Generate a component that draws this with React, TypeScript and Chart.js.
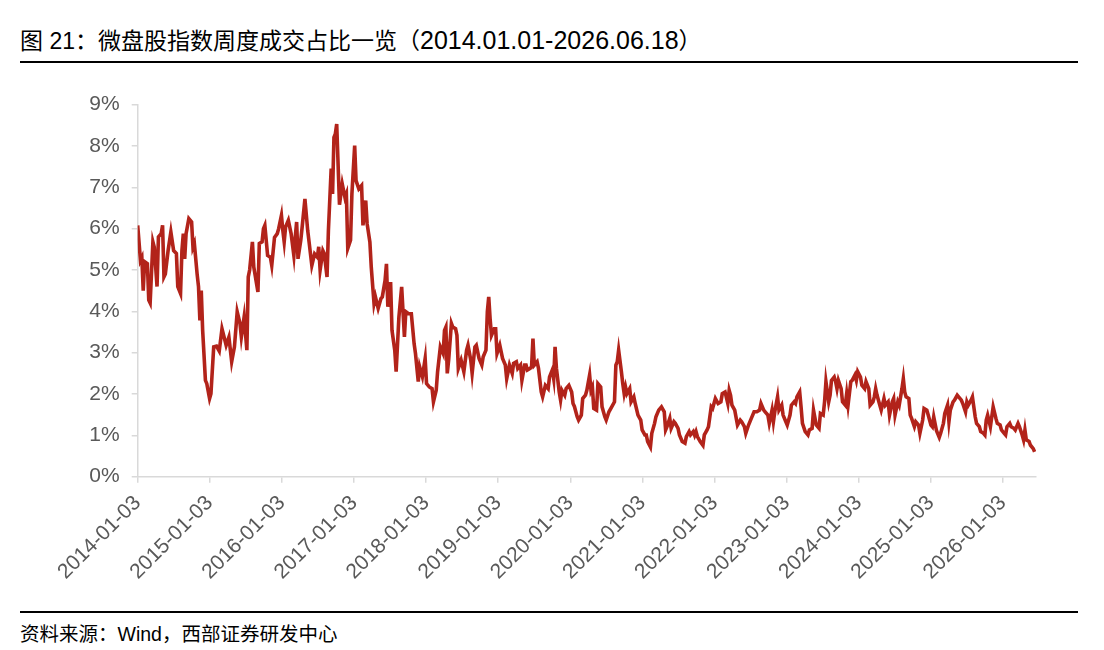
import React, { useEffect, useRef } from 'react';
import { Chart, registerables } from 'chart.js';

Chart.register(...registerables);

const weekIndex = [
  0, 2, 3, 4, 5, 7, 8, 9, 11, 12, 14, 15, 17, 18, 19, 20, 22, 24, 26, 28, 29, 31, 32, 33, 34, 35, 37, 39,
  40, 41, 43, 44, 45, 46, 47, 49, 50, 52, 53, 55, 57, 59,
  61, 64, 66, 68, 70, 72, 74, 75, 77, 79, 80, 81, 83, 84, 87, 88, 90, 91, 92, 94, 96, 97, 99,
  101, 102, 104, 105, 106, 107, 109, 111, 113, 114, 115, 116, 118, 119, 121, 123, 124, 126, 128,
  130, 131, 132, 134, 135, 137, 138, 140, 141, 142, 143, 144, 146, 148, 150, 151, 152, 154, 155, 157, 158,
  160, 162, 163, 165, 166, 168, 169, 171, 172, 174, 176, 177, 179, 180, 181, 183, 184, 186, 187, 189,
  191, 193, 194, 196, 198, 200, 201, 203, 204, 206, 208, 209, 211, 213, 214, 216, 217, 219,
  221, 222, 223, 224, 225, 227, 228, 230, 231, 232, 234, 236, 238, 239, 241, 242, 244, 245, 247, 249,
  250, 252, 253, 254, 255, 256, 258, 259, 260, 262, 264, 266, 267, 269, 271, 272, 274, 275, 277, 278,
  280, 281, 282, 284, 285, 286, 287, 289, 290, 292, 293, 295, 297, 298, 300, 301, 302, 303, 305, 306,
  307, 309, 310, 312, 314, 315, 316, 318, 319, 321, 322, 324, 325, 327, 328, 329, 330, 332, 333, 335,
  336, 338, 339, 341, 343, 345, 346, 347, 348, 350, 351, 352, 353, 354, 356, 357, 359, 360, 362, 364,
  365, 367, 368, 369, 371, 372, 374, 375, 377, 379, 381, 382, 383, 385, 386, 388, 389, 391, 392, 394,
  396, 397, 399, 400, 402, 403, 404, 405, 407, 409, 410, 412, 413, 415, 416, 418, 420, 422, 423, 425,
  427, 428, 429, 430, 432, 434, 436, 437, 439, 440, 442, 444, 446, 448, 450, 451, 453, 454, 456, 457,
  459, 460, 461, 463, 464, 466, 467, 469, 470, 472, 473, 475, 476, 477, 479, 480, 481, 483, 485, 486,
  488, 489, 491, 493, 494, 496, 497, 498, 500, 501, 502, 504, 505, 506, 507, 509, 510, 512, 513, 514,
  516, 517, 519, 520, 521, 523, 524, 526, 527, 529, 530, 532, 533, 534, 535, 537, 538, 540, 541, 543,
  544, 546, 547, 548, 550, 551, 553, 554, 555, 556, 558, 559, 560, 562, 563, 565, 566, 568, 569, 571,
  572, 574, 575, 576, 578, 580, 581, 583, 584, 586, 587, 588, 590, 591, 593, 594, 596, 597, 599, 600,
  601, 603, 604, 606, 607, 609, 610, 612, 613, 614, 615, 617, 618, 619, 621, 622, 624, 625, 627, 628,
  629, 631, 632, 634, 635, 637, 638, 640, 641, 642, 643, 645, 646, 648, 649,
];

// Weekly turnover share of the micro-cap index, in percent
const turnoverShare = [
  6.08, 5.23, 5.3, 4.5, 5.2, 5.15, 4.27, 4.2, 5.68, 5.55, 4.6, 5.8, 5.88, 6.08, 4.83, 4.9, 5.47, 5.92, 5.47, 5.4, 4.6, 4.43, 5.47, 5.88, 5.27, 5.88, 6.24, 6.16,
  5.55, 5.64, 4.9, 4.6, 3.78, 4.5, 3.54, 2.33, 2.25, 1.89, 2.01, 3.14, 3.16, 3.04,
  3.58, 3.18, 3.38, 2.78, 3.14, 3.99, 3.71, 3.38, 3.86, 3.06, 4.83, 5.0, 5.68, 5.07, 4.47, 5.64, 5.68, 6.0, 6.08, 5.35, 5.31, 5.11, 5.79,
  5.88, 6.0, 6.32, 5.96, 5.68, 6.04, 6.2, 5.88, 5.35, 5.79, 6.16, 5.27, 5.72, 6.04, 6.72, 5.96, 5.68, 5.11, 5.39,
  5.31, 5.56, 5.0, 5.47, 5.4, 4.83, 5.96, 7.45, 6.84, 8.21, 8.29, 8.53, 6.58, 7.08, 6.75, 6.84, 5.52, 5.72, 6.84, 8.01, 7.16,
  6.96, 7.04, 6.08, 6.68, 6.12, 5.68, 5.07, 4.19, 4.35, 4.07, 4.31, 4.35, 4.75, 5.15, 4.11, 4.71, 3.54, 3.06, 2.54, 3.86,
  4.59, 3.38, 3.99, 3.94, 3.94, 3.22, 2.98, 2.3, 2.66, 2.42, 2.86, 2.25, 2.17, 2.13, 1.81, 2.09, 2.54, 3.14,
  2.98, 3.54, 3.62, 2.5, 2.82, 3.71, 3.62, 3.58, 3.42, 2.62, 2.82, 2.54, 3.06, 3.18, 2.82, 2.5, 3.14, 3.18, 2.86, 2.7,
  2.9, 3.06, 3.99, 4.35, 3.82, 3.42, 3.58, 3.58, 2.98, 3.18, 2.86, 2.7, 2.37, 2.7, 2.5, 2.74, 2.78, 2.62, 2.7, 2.33,
  2.7, 2.7, 2.58, 2.62, 2.66, 3.34, 2.7, 2.78, 2.62, 2.05, 1.93, 2.21, 2.13, 2.41, 2.58, 2.37, 3.14, 2.62, 2.05, 1.85,
  2.09, 1.97, 2.13, 2.21, 2.05, 1.77, 1.7, 1.45, 1.37, 1.49, 1.89, 1.97, 2.09, 2.46, 2.09, 2.17, 1.65, 1.61, 2.25, 2.17,
  1.69, 1.45, 1.37, 1.57, 1.69, 1.81, 2.7, 2.78, 3.06, 2.54, 2.25, 2.01, 2.17, 2.01, 2.13, 1.81, 1.93, 1.77, 1.49, 1.37,
  1.13, 1.01, 1.01, 0.85, 0.72, 1.05, 1.29, 1.45, 1.61, 1.69, 1.57, 1.13, 1.21, 1.41, 1.17, 1.33, 1.29, 1.17, 1.01, 0.85,
  0.81, 0.97, 1.09, 1.01, 1.09, 1.0, 1.09, 0.97, 0.85, 0.76, 1.01, 1.13, 1.21, 1.69, 1.65, 1.89, 1.77, 1.81, 2.01, 2.05,
  1.77, 2.09, 1.97, 1.73, 1.61, 1.25, 1.37, 1.33, 1.21, 1.05, 1.25, 1.41, 1.57, 1.57, 1.61, 1.77, 1.61, 1.57, 1.49, 1.29,
  1.61, 1.33, 1.57, 1.93, 1.61, 1.73, 1.49, 1.33, 1.25, 1.49, 1.73, 1.81, 1.77, 1.93, 2.05, 1.69, 1.29, 1.09, 1.01, 1.13,
  1.17, 1.61, 1.25, 1.17, 1.53, 1.49, 1.81, 2.3, 1.81, 1.97, 2.33, 2.41, 2.3, 2.13, 2.33, 2.13, 1.81, 1.73, 2.01, 1.73,
  2.3, 2.33, 2.46, 2.33, 2.54, 2.41, 2.21, 2.13, 2.3, 2.13, 1.73, 1.81, 1.93, 2.13, 1.97, 1.73, 1.61, 1.89, 1.73, 1.81,
  1.49, 1.81, 1.89, 1.49, 1.81, 1.73, 2.13, 2.37, 2.05, 1.93, 1.89, 1.49, 1.41, 1.21, 1.33, 1.25, 1.05, 1.37, 1.65, 1.61,
  1.49, 1.25, 1.21, 1.45, 1.11, 0.95, 1.05, 1.29, 1.53, 1.73, 1.33, 1.61, 1.81, 1.85, 1.97, 1.93, 1.85, 1.77, 1.57, 1.81,
  1.73, 1.85, 1.93, 1.45, 1.29, 1.21, 1.09, 1.05, 1.01, 1.37, 1.49, 1.21, 1.45, 1.69, 1.41, 1.29, 1.25, 1.13, 1.05, 1.01,
  1.21, 1.29, 1.21, 1.17, 1.13, 1.29, 1.21, 1.01, 0.89, 1.13, 0.89, 0.85, 0.76, 0.68, 0.6,
];

const yearTickLabels = [
  '2014-01-03', '2015-01-03', '2016-01-03', '2017-01-03', '2018-01-03', '2019-01-03', '2020-01-03',
  '2021-01-03', '2022-01-03', '2023-01-03', '2024-01-03', '2025-01-03', '2026-01-03',
];

const startDate = '2014-01-03';
const lastWeek = 650;

function weeksFromStart(label: string): number {
  const [y, m, d] = label.split('-').map(Number);
  const [y0, m0, d0] = startDate.split('-').map(Number);
  return (Date.UTC(y, m - 1, d) - Date.UTC(y0, m0 - 1, d0)) / (7 * 86400000);
}

const TITLE_HEAD = '图 21：微盘股指数周度成交占比一览（';
const TITLE_RANGE = '2014.01.01-2026.06.18';
const TITLE_TAIL = '）';
const SOURCE = '资料来源：Wind，西部证券研发中心';

const tickFont = { family: '"Liberation Sans", Arial, sans-serif', size: 21 };
const axisGray = '#d9d9d9';
const labelGray = '#595959';

export default function App() {
  const canvasRef = useRef<HTMLCanvasElement>(null);

  useEffect(() => {
    if (!canvasRef.current) return;
    const points = weekIndex.map((w, i) => ({ x: w, y: turnoverShare[i] }));
    const chart = new Chart(canvasRef.current, {
      type: 'line',
      data: {
        datasets: [
          {
            data: points,
            borderColor: '#B2231A',
            borderWidth: 3.6,
            pointRadius: 0,
            tension: 0,
            fill: false,
          },
        ],
      },
      options: {
        animation: false,
        responsive: false,
        maintainAspectRatio: false,
        layout: { padding: { left: 0, right: 68, top: 24, bottom: 0 } },
        plugins: { legend: { display: false }, tooltip: { enabled: false } },
        scales: {
          x: {
            type: 'linear',
            min: 0,
            max: lastWeek,
            afterBuildTicks: (scale: any) => {
              scale.ticks = yearTickLabels.map((l) => ({ value: weeksFromStart(l) }));
            },
            afterFit: (scale: any) => {
              scale.height = 133.3;
            },
            ticks: {
              autoSkip: false,
              minRotation: 45,
              maxRotation: 45,
              color: labelGray,
              font: tickFont,
              padding: 8,
              callback: (_v: any, i: number) => yearTickLabels[i],
            },
            grid: {
              drawOnChartArea: false,
              drawTicks: true,
              tickLength: 6,
              color: axisGray,
              lineWidth: 1.5,
            },
            border: { color: axisGray, width: 1.5 },
          },
          y: {
            min: 0,
            max: 9,
            afterFit: (scale: any) => {
              scale.width = 137.7;
            },
            ticks: {
              stepSize: 1,
              color: labelGray,
              font: tickFont,
              padding: 12,
              callback: (v: any) => `${v}%`,
            },
            grid: {
              drawOnChartArea: false,
              drawTicks: true,
              tickLength: 6,
              color: axisGray,
              lineWidth: 1.5,
            },
            border: { color: axisGray, width: 1.5 },
          },
        },
      },
    });
    return () => chart.destroy();
  }, []);

  return (
    <div
      style={{
        position: 'fixed',
        left: 0,
        top: 0,
        width: 1104,
        height: 650,
        background: '#ffffff',
        overflow: 'hidden',
      }}
    >
      <div
        style={{
          position: 'absolute',
          left: 20,
          top: 24,
          fontFamily: '"Liberation Sans", "Noto Sans CJK SC", sans-serif',
          fontSize: 23,
          lineHeight: '32px',
          color: '#000',
          whiteSpace: 'nowrap',
        }}
      >
        {TITLE_HEAD}
        <span style={{ fontSize: 25 }}>{TITLE_RANGE}</span>
        {TITLE_TAIL}
      </div>
      <div style={{ position: 'absolute', left: 20, top: 61, width: 1058, height: 1.5, background: '#000' }} />
      <canvas
        ref={canvasRef}
        width={1104}
        height={530}
        style={{ position: 'absolute', left: 0, top: 80, width: 1104, height: 530 }}
      />
      <div style={{ position: 'absolute', left: 20, top: 611, width: 1058, height: 1.5, background: '#000' }} />
      <div
        style={{
          position: 'absolute',
          left: 20,
          top: 620,
          fontFamily: '"Liberation Sans", "Noto Sans CJK SC", sans-serif',
          fontSize: 19.5,
          lineHeight: '28px',
          color: '#000',
          whiteSpace: 'nowrap',
        }}
      >
        {SOURCE}
      </div>
    </div>
  );
}
